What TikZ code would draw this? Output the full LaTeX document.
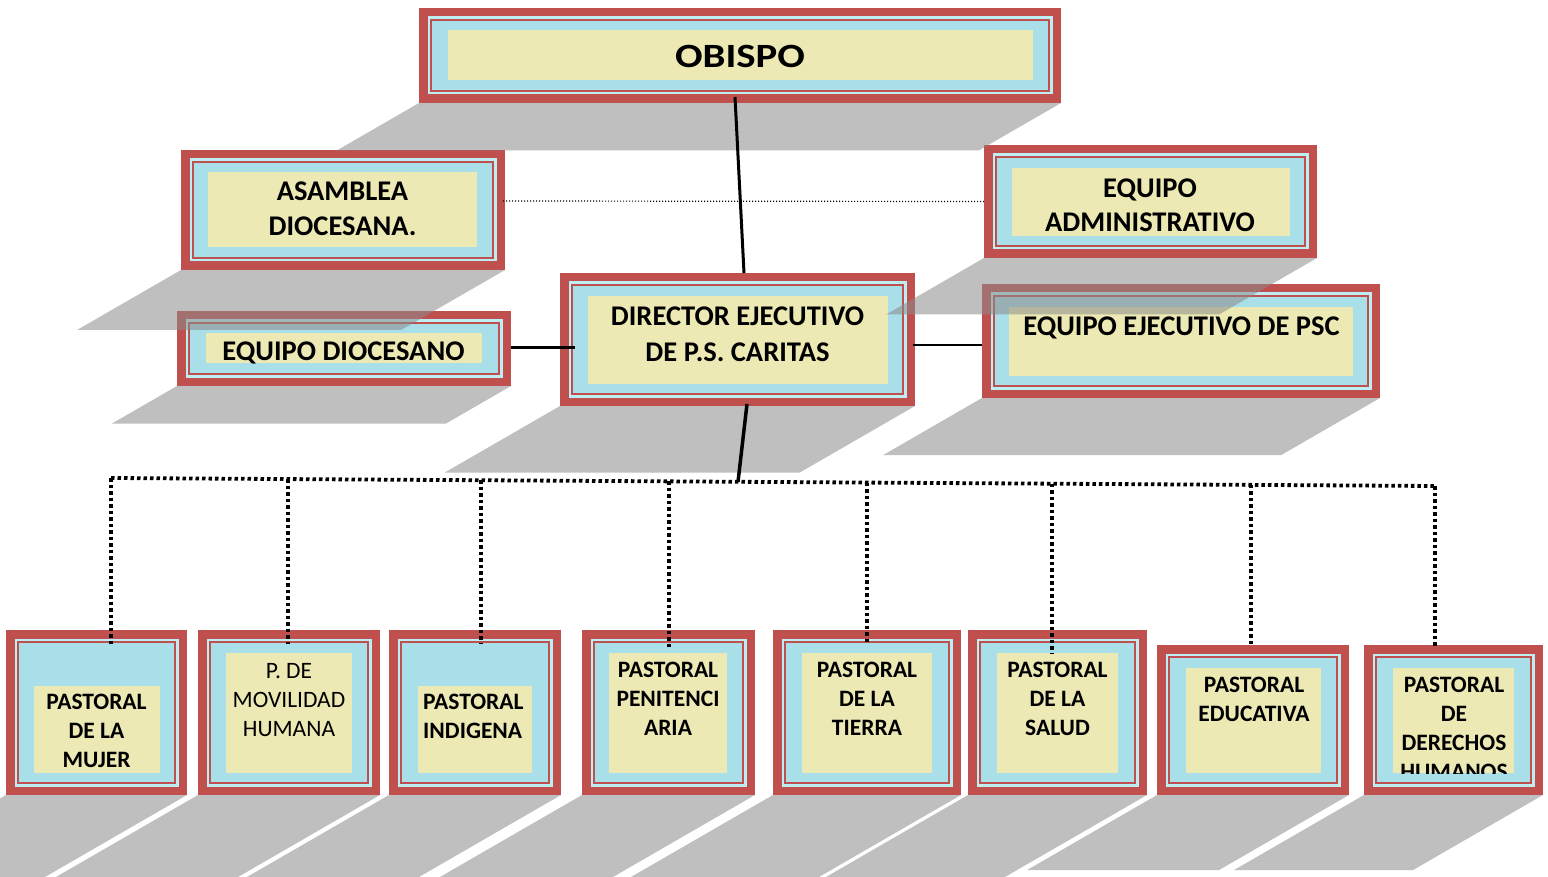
\documentclass[tikz,border=0pt]{standalone}
\usepackage{fontspec}
\usepackage{graphicx}
\setmainfont{Carlito}
\usetikzlibrary{calc}
\definecolor{boxred}{HTML}{C0504D}
\definecolor{bandcyan}{HTML}{BDEEF4}
\definecolor{fillcyan}{HTML}{A9DFE8}
\definecolor{labelyellow}{HTML}{ECE9B4}
\definecolor{shadowgray}{HTML}{8B8B8B}
\tikzset{
  redbox/.style={fill=boxred, draw=none, inner sep=0pt, outer sep=0pt},
  yellowbox/.style={fill=labelyellow, draw=none, inner sep=0pt, outer sep=0pt},
  boxshadow/.style={fill=shadowgray, fill opacity=0.55, draw=none},
  toplabel/.style={font=\bfseries\fontsize{28.5}{35}\selectfont, align=center, inner sep=0pt, anchor=north},
  botlabel/.style={font=\bfseries\fontsize{23.5}{29}\selectfont, align=center, inner sep=0pt, anchor=north},
  botlabelreg/.style={font=\fontsize{23.5}{29}\selectfont, align=center, inner sep=0pt, anchor=north},
  conn/.style={draw=black, line width=3pt},
  thinconn/.style={draw=black, line width=1.3pt},
  dotconn/.style={draw=black, line width=1.2pt, dash pattern=on 1.2pt off 1.8pt},
  bus/.style={draw=black, line width=3.8pt, dash pattern=on 3.5pt off 3pt},
}
\newcommand\orgframe[5]{%
  \node[redbox, minimum width={(#4-#2)*1pt}, minimum height={(#5-#3)*1pt}] (#1) at ({(#2+#4)/2},{(#3+#5)/2}) {};
  \fill[bandcyan] ([shift={(8.5pt,-8.5pt)}]#1.north west) rectangle ([shift={(-8.5pt,8.5pt)}]#1.south east);
  \fill[fillcyan] ([shift={(13pt,-13pt)}]#1.north west) rectangle ([shift={(-13pt,13pt)}]#1.south east);
  \draw[boxred, line width=2.5pt] ([shift={(12pt,-12pt)}]#1.north west) rectangle ([shift={(-12pt,12pt)}]#1.south east);
}
\newcommand\orgyellow[5]{%
  \node[yellowbox, minimum width={(#4-#2)*1pt}, minimum height={(#5-#3)*1pt}] (#1) at ({(#2+#4)/2},{(#3+#5)/2}) {};
}
\newcommand\orgshadow[2]{%
  \fill[boxshadow] (#1.south west) -- (#1.south east) -- ++({-0.866*#2},{0.5*#2}) -- ($(#1.south west)+({-0.866*#2},{0.5*#2})$) -- cycle;
}
\begin{document}
\begin{tikzpicture}[x=1pt,y=-1pt]
\useasboundingbox (0,0) rectangle (1548,877);
\clip (0,0) rectangle (1548,877);
\fill[white] (0,0) rectangle (1548,877);

% ---------- frames ----------
\orgframe{obispo}{419}{8}{1061}{103}
\orgyellow{obispoy}{448}{30}{1033}{80}
\node[toplabel] (obispot) at (740,45) {\fontsize{34}{40}\selectfont\scalebox{1.2}[1]{OBISPO}};

\orgframe{asamblea}{181}{150}{505}{270}
\orgyellow{asambleay}{208}{172}{477}{247}
\node[toplabel] (asambleat) at (342.5,182) {ASAMBLEA\\DIOCESANA.};

\orgframe{diocesano}{177}{311}{511}{386}
\orgyellow{diocesanoy}{206}{333}{482}{363}
\node[toplabel] (diocesanot) at (343.5,342) {EQUIPO DIOCESANO};

\orgframe{director}{560}{273}{915}{406}
\orgyellow{directory}{588}{296}{888}{384}
\node[toplabel, font=\bfseries\fontsize{28.5}{36}\selectfont] (directort) at (737.5,307) {DIRECTOR EJECUTIVO\\DE P.S. CARITAS};

\orgframe{admin}{984}{145}{1317}{258}
\orgyellow{adminy}{1012}{168}{1290}{236}
\node[toplabel, font=\bfseries\fontsize{28.5}{34}\selectfont] (admint) at (1150,179) {EQUIPO\\ADMINISTRATIVO};

\orgframe{ejecutivo}{982}{284}{1380}{398}
\orgyellow{ejecutivoy}{1009}{307}{1353}{376}
\node[toplabel] (ejecutivot) at (1181.5,317) {EQUIPO EJECUTIVO DE PSC};

% bottom row
\orgframe{b1}{6}{630}{187}{795}
\orgyellow{b1y}{34}{686}{160}{773}
\node[botlabel] (b1t) at (96.5,694) {PASTORAL\\DE LA\\MUJER};

\orgframe{b2}{198}{630}{380}{795}
\orgyellow{b2y}{226}{653}{352}{773}
\node[botlabelreg] (b2t) at (289,663) {P. DE\\MOVILIDAD\\HUMANA};

\orgframe{b3}{389}{630}{561}{795}
\orgyellow{b3y}{418}{686}{532}{773}
\node[botlabel, align=left, anchor=north west] (b3t) at (423,694) {PASTORAL\\INDIGENA};

\orgframe{b4}{582}{630}{755}{795}
\orgyellow{b4y}{609}{653}{727}{773}
\node[botlabel] (b4t) at (668,662) {PASTORAL\\PENITENCI\\ARIA};

\orgframe{b5}{773}{630}{961}{795}
\orgyellow{b5y}{802}{653}{932}{773}
\node[botlabel] (b5t) at (867,662) {PASTORAL\\DE LA\\TIERRA};

\orgframe{b6}{968}{630}{1147}{795}
\orgyellow{b6y}{997}{653}{1118}{773}
\node[botlabel] (b6t) at (1057.5,662) {PASTORAL\\DE LA\\SALUD};

\orgframe{b7}{1157}{645}{1349}{795}
\orgyellow{b7y}{1186}{668}{1321}{773}
\node[botlabel] (b7t) at (1254,677) {PASTORAL\\EDUCATIVA};

\orgframe{b8}{1364}{645}{1543}{795}
\orgyellow{b8y}{1393}{668}{1514}{773}
\begin{scope}
\clip (b8y.north west) rectangle (b8y.south east);
\node[botlabel] (b8t) at (1454,677) {PASTORAL\\DE\\DERECHOS\\HUMANOS};
\end{scope}

% ---------- shadows ----------
\orgshadow{obispo}{95}
\orgshadow{asamblea}{120}
\orgshadow{diocesano}{75}
\orgshadow{director}{133}
\orgshadow{admin}{113}
\orgshadow{ejecutivo}{114}
\orgshadow{b1}{165}
\orgshadow{b2}{165}
\orgshadow{b3}{165}
\orgshadow{b4}{165}
\orgshadow{b5}{165}
\orgshadow{b6}{165}
\orgshadow{b7}{150}
\orgshadow{b8}{150}

% ---------- connectors ----------
\draw[conn] ([shift={(-5pt,6pt)}]obispo.south) -- ([shift={(6.5pt,0pt)}]director.north);
\draw[conn] ([shift={(15pt,-8.5pt)}]director.west) -- (diocesano.east |- 0,348);
\draw[thinconn] ([shift={(-2pt,-5.5pt)}]director.east) -- ([shift={(0pt,-4pt)}]ejecutivo.west);
\draw[dotconn] ([shift={(-2pt,9pt)}]asamblea.east) -- (admin.west);

\coordinate (j0) at (738,481.8);
\coordinate (j1) at (111,478);
\coordinate (j2) at (288,479.1);
\coordinate (j3) at (481,480.2);
\coordinate (j4) at (669,481.4);
\coordinate (j5) at (867,482.6);
\coordinate (j6) at (1052,483.7);
\coordinate (j7) at (1251,484.9);
\coordinate (j8) at (1435,486);

\draw[bus] (j1) -- (j8);
\draw[bus] (j1) -- ($(j1 |- b1.north)+(0,14)$);
\draw[bus] (j2) -- ($(j2 |- b2.north)+(0,14)$);
\draw[bus] (j3) -- ($(j3 |- b3.north)+(0,14)$);
\draw[bus] (j4) -- ($(j4 |- b4.north)+(0,18)$);
\draw[bus] (j5) -- ($(j5 |- b5.north)+(0,13)$);
\draw[bus] (j6) -- ($(j6 |- b6.north)+(0,23)$);
\draw[bus] (j7) -- ($(j7 |- b7.north)+(0,0)$);
\draw[bus] (j8) -- ($(j8 |- b8.north)+(0,2)$);
\draw[conn, line width=3.5pt] ([shift={(9.5pt,2pt)}]director.south) -- (j0);
\end{tikzpicture}
\end{document}
